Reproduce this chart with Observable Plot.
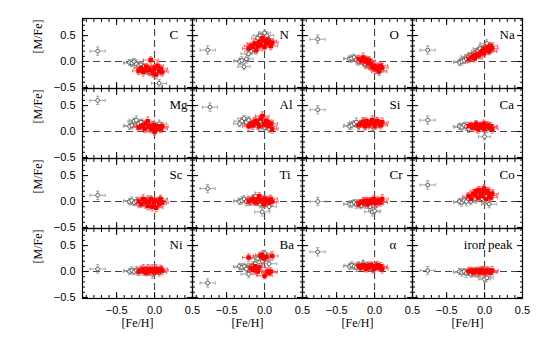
<!DOCTYPE html>
<html><head><meta charset="utf-8">
<script src="https://cdn.jsdelivr.net/npm/d3@7"></script>
<script src="https://cdn.jsdelivr.net/npm/@observablehq/plot@0.6"></script>
<style>body{margin:0;background:#fff}</style>
</head><body><div id="chart"></div>
<script>
// Panel element labels (row-major, 4 columns)
const elements = ["C","N","O","Na","Mg","Al","Si","Ca","Sc","Ti","Cr","Co","Ni","Ba","α","iron peak"];

// [Fe/H] of the stars (same stars in every panel)
const grayFeH = [-0.33,-0.30,-0.27,-0.24,-0.21,-0.18,-0.15,-0.12,-0.09,-0.06,-0.03,0.00,0.03,0.06];
const grayXErr = [0.08,0.10,0.08,0.09,0.10,0.08,0.09,0.10,0.08,0.09,0.10,0.08,0.09,0.10];
const grayYErr = [0.06,0.07,0.06,0.08,0.07,0.06,0.07,0.08,0.06,0.07,0.08,0.06,0.07,0.07];
const redFeH = [-0.21,-0.18,-0.15,-0.13,-0.11,-0.09,-0.07,-0.05,-0.03,-0.01,0.00,0.02,0.04,0.06,0.08,0.10];
const redXErr = [0.08,0.09,0.08,0.10,0.08,0.09,0.08,0.10,0.09,0.08,0.10,0.09,0.08,0.10,0.09,0.08];
const redYErr = [0.07,0.06,0.08,0.07,0.06,0.08,0.07,0.06,0.08,0.07,0.06,0.08,0.07,0.06,0.07,0.08];

// [M/Fe] per element for gray stars
const grayMFe = [
  [-0.02,-0.03,0.00,-0.05,-0.08,-0.06,-0.10,-0.15,-0.18,-0.20,-0.22,-0.25,-0.20,-0.42], // C
  [0.00,0.02,-0.10,0.05,0.15,0.20,0.25,0.30,0.45,0.50,0.35,0.55,0.50,0.40],             // N
  [0.05,0.06,0.08,0.03,0.00,0.02,-0.02,-0.05,0.00,-0.08,-0.10,-0.12,-0.15,-0.20],       // O
  [-0.02,0.00,0.02,0.05,0.10,0.12,0.08,0.15,0.20,0.25,0.22,0.28,0.35,0.20],            // Na
  [0.10,0.12,0.20,0.22,0.15,0.18,0.10,0.12,0.15,0.05,0.10,0.12,0.08,0.15],             // Mg
  [0.15,0.20,0.25,0.18,0.22,0.12,0.15,0.20,0.10,0.18,0.15,0.08,0.12,0.05],             // Al
  [0.10,0.12,0.15,0.18,0.10,0.15,0.20,0.12,0.18,0.15,0.10,0.20,0.12,0.15],             // Si
  [0.10,0.08,0.12,0.10,0.05,0.10,0.08,0.12,0.05,0.10,0.08,-0.10,0.05,0.10],            // Ca
  [0.00,0.02,-0.02,0.00,-0.05,0.02,0.00,-0.05,0.05,-0.08,-0.02,0.00,-0.05,0.02],       // Sc
  [0.00,0.02,0.05,0.00,0.02,-0.02,0.05,0.10,0.00,-0.05,-0.20,-0.05,0.02,-0.10],        // Ti
  [-0.05,-0.05,-0.02,-0.05,-0.03,-0.08,0.00,-0.05,-0.02,-0.10,-0.20,-0.18,-0.05,0.00], // Cr
  [0.00,-0.02,0.02,0.00,0.05,0.00,0.08,0.05,0.10,0.15,0.05,0.02,0.10,-0.05],           // Co
  [0.00,0.02,0.00,0.02,0.00,0.05,0.00,0.02,-0.02,0.05,-0.05,0.00,0.02,-0.02],          // Ni
  [0.10,0.08,0.10,0.05,-0.05,0.10,0.12,0.15,0.25,0.30,0.20,0.35,0.28,0.15],            // Ba
  [0.10,0.12,0.10,0.08,0.12,0.10,0.15,0.08,0.12,0.10,0.05,0.10,0.12,0.08],             // alpha
  [0.00,-0.02,0.00,-0.03,0.00,-0.05,0.00,-0.02,-0.05,0.00,0.02,-0.15,-0.12,0.00]       // iron peak
];
// [M/Fe] per element for red stars
const redMFe = [
  [-0.18,-0.12,-0.20,-0.15,-0.10,-0.17,-0.14,0.03,-0.19,-0.22,-0.12,-0.25,-0.08,-0.18,-0.14,-0.20],
  [0.25,0.30,0.28,0.35,0.22,0.30,0.38,0.32,0.45,0.40,0.28,0.35,0.42,0.38,0.30,0.36],
  [0.05,0.02,0.08,0.00,0.04,-0.03,0.02,-0.05,-0.10,-0.08,-0.12,-0.15,-0.10,-0.18,-0.08,-0.12],
  [0.05,0.08,0.10,0.06,0.12,0.15,0.12,0.18,0.20,0.16,0.25,0.22,0.28,0.20,0.30,0.25],
  [0.08,0.10,0.12,0.05,0.15,0.20,0.10,0.08,0.05,0.12,0.00,0.05,0.10,0.08,0.05,0.10],
  [0.10,0.15,0.12,0.18,0.20,0.15,0.10,0.25,0.30,0.15,0.12,0.20,0.18,0.10,0.15,0.05],
  [0.12,0.15,0.18,0.10,0.20,0.15,0.12,0.18,0.22,0.15,0.10,0.18,0.20,0.15,0.12,0.18],
  [0.10,0.12,0.08,0.10,0.15,0.05,0.10,0.12,0.08,0.15,0.05,0.10,0.12,0.08,0.10,0.05],
  [0.00,-0.05,0.05,-0.02,0.02,-0.08,0.00,0.05,-0.10,-0.05,0.02,-0.12,0.00,-0.05,0.05,-0.02],
  [0.00,0.02,0.05,0.00,-0.02,0.05,0.10,0.00,0.02,-0.05,0.05,0.00,0.02,-0.02,0.05,0.00],
  [-0.05,-0.02,0.00,-0.03,0.02,-0.05,0.00,0.02,-0.02,0.05,0.00,-0.03,0.02,0.00,-0.02,0.05],
  [0.10,0.05,0.15,0.12,0.20,0.08,0.22,0.15,0.10,0.25,0.18,0.05,0.20,0.12,0.08,0.15],
  [0.00,0.02,0.05,0.00,-0.02,0.05,0.00,0.02,0.05,-0.02,0.00,0.05,0.02,0.00,0.05,0.02],
  [0.27,0.07,0.03,0.10,0.02,0.00,0.08,0.30,0.32,0.25,-0.08,0.28,0.00,-0.02,0.00,0.30],
  [0.10,0.08,0.12,0.10,0.05,0.10,0.08,0.12,0.10,0.05,0.08,0.10,0.12,0.08,0.10,0.05],
  [0.00,0.02,-0.02,0.00,0.02,0.00,-0.02,0.03,0.00,0.02,-0.02,0.00,0.02,0.00,-0.02,0.02]
];
// typical-error reference point per panel
const refFeH = [-0.75,-0.75,-0.75,-0.75,-0.75,-0.72,-0.75,-0.75,-0.75,-0.75,-0.75,-0.75,-0.75,-0.75,-0.75,-0.75];
const refMFe = [0.20,0.22,0.43,0.22,0.60,0.47,0.42,0.22,0.12,0.25,0.00,0.32,0.05,-0.22,0.38,0.02];
const refXErr = 0.10, refYErr = 0.08;

const xTickLabels = [-0.5, 0, 0.5];
const yTickLabels = [-0.5, 0, 0.5];

// build table
const grayRows = [], redRows = [], refRows = [], labelRows = [];
elements.forEach((el, i) => {
  const col = i % 4, row = Math.floor(i / 4);
  labelRows.push({col, row, el});
  grayFeH.forEach((x, j) => grayRows.push({col, row, x, y: grayMFe[i][j], xe: grayXErr[j], ye: grayYErr[j]}));
  redFeH.forEach((x, j) => redRows.push({col, row, x, y: redMFe[i][j], xe: redXErr[j], ye: redYErr[j]}));
  refRows.push({col, row, x: refFeH[i], y: refMFe[i], xe: refXErr, ye: refYErr});
});
const grayAll = grayRows.concat(refRows);

const capH = {draw(ctx, size){ const r = Math.sqrt(size/Math.PI); ctx.moveTo(-r,0); ctx.lineTo(r,0);} };
const capV = {draw(ctx, size){ const r = Math.sqrt(size/Math.PI); ctx.moveTo(0,-r); ctx.lineTo(0,r);} };

function errMarks(data, color, width) {
  const f = {fx: "col", fy: "row"};
  return [
    Plot.ruleY(data, {...f, y: "y", x1: d => d.x - d.xe, x2: d => d.x + d.xe, stroke: color, strokeWidth: width}),
    Plot.ruleX(data, {...f, x: "x", y1: d => d.y - d.ye, y2: d => d.y + d.ye, stroke: color, strokeWidth: width}),
    Plot.dot(data, {...f, x: d => d.x - d.xe, y: "y", symbol: capV, r: 1.6, stroke: color, strokeWidth: width}),
    Plot.dot(data, {...f, x: d => d.x + d.xe, y: "y", symbol: capV, r: 1.6, stroke: color, strokeWidth: width}),
    Plot.dot(data, {...f, x: "x", y: d => d.y - d.ye, symbol: capH, r: 1.6, stroke: color, strokeWidth: width}),
    Plot.dot(data, {...f, x: "x", y: d => d.y + d.ye, symbol: capH, r: 1.6, stroke: color, strokeWidth: width})
  ];
}

const minorX = d3.range(-9, 6).map(d => d / 10);
const minorY = d3.range(-5, 9).map(d => d / 10);
const majorT = [-0.5, 0, 0.5];
const tickOpts = {tickFormat: () => "", label: null, facetAnchor: null, stroke: "#000"};
const dash = {stroke: "#444", strokeDasharray: "7,4", strokeWidth: 1.1};
const serif = "Liberation Serif, Times New Roman, serif";

const chart = Plot.plot({
  width: 552, height: 347,
  marginLeft: 80, marginRight: 29, marginTop: 16, marginBottom: 48,
  x: {domain: [-0.95, 0.5]},
  y: {domain: [-0.52, 0.83]},
  fx: {domain: [0,1,2,3], padding: 0, axis: null},
  fy: {domain: [0,1,2,3], padding: 0, axis: null},
  style: {fontFamily: "Liberation Sans, Arial, sans-serif", fontSize: "11px", color: "#000", background: "#fff"},
  marks: [
    Plot.ruleY([0], dash),
    Plot.ruleX([0], dash),
    ...errMarks(grayAll, "#9a9a9a", 0.9),
    ...errMarks(redRows, "#ff5050", 0.9),
    Plot.dot(grayAll, {fx: "col", fy: "row", x: "x", y: "y", r: 1.9, stroke: "#505050", fill: "#fff", strokeWidth: 0.9}),
    Plot.dot(redRows, {fx: "col", fy: "row", x: "x", y: "y", r: 1.7, fill: "#ff0000", stroke: "#ff0000", symbol: "square"}),
    Plot.frame({stroke: "#000", strokeWidth: 1.2}),
    ...["top", "bottom"].flatMap(anchor => [
      Plot.axisX({...tickOpts, anchor, ticks: minorX, tickSize: -3}),
      Plot.axisX({...tickOpts, anchor, ticks: majorT, tickSize: -6})
    ]),
    ...["left", "right"].flatMap(anchor => [
      Plot.axisY({...tickOpts, anchor, ticks: minorY, tickSize: -3}),
      Plot.axisY({...tickOpts, anchor, ticks: majorT, tickSize: -6})
    ]),
    Plot.axisX({anchor: "bottom", ticks: xTickLabels, tickSize: 0, tickPadding: 8, label: null, fontSize: 11}),
    Plot.axisY({anchor: "left", ticks: yTickLabels, tickSize: 0, tickPadding: 7, label: null, fontSize: 11}),
    Plot.text(labelRows.filter(d => d.el.length < 4), {fx: "col", fy: "row", text: "el", frameAnchor: "top-left", textAnchor: "start", dx: 87, dy: 11, fontFamily: serif, fontSize: 13}),
    Plot.text(labelRows.filter(d => d.el.length >= 4), {fx: "col", fy: "row", text: "el", frameAnchor: "top-right", textAnchor: "end", dx: -10, dy: 11, fontFamily: serif, fontSize: 13}),
    Plot.text(labelRows.filter(d => d.row === 3), {fx: "col", fy: "row", text: () => "[Fe/H]", frameAnchor: "bottom", dy: 28, fontFamily: serif, fontSize: 12}),
    Plot.text(labelRows.filter(d => d.col === 0), {fx: "col", fy: "row", text: () => "[M/Fe]", frameAnchor: "left", dx: -44, rotate: -90, fontFamily: serif, fontSize: 12})
  ]
});
document.getElementById("chart").appendChild(chart);
</script>
</body></html>
